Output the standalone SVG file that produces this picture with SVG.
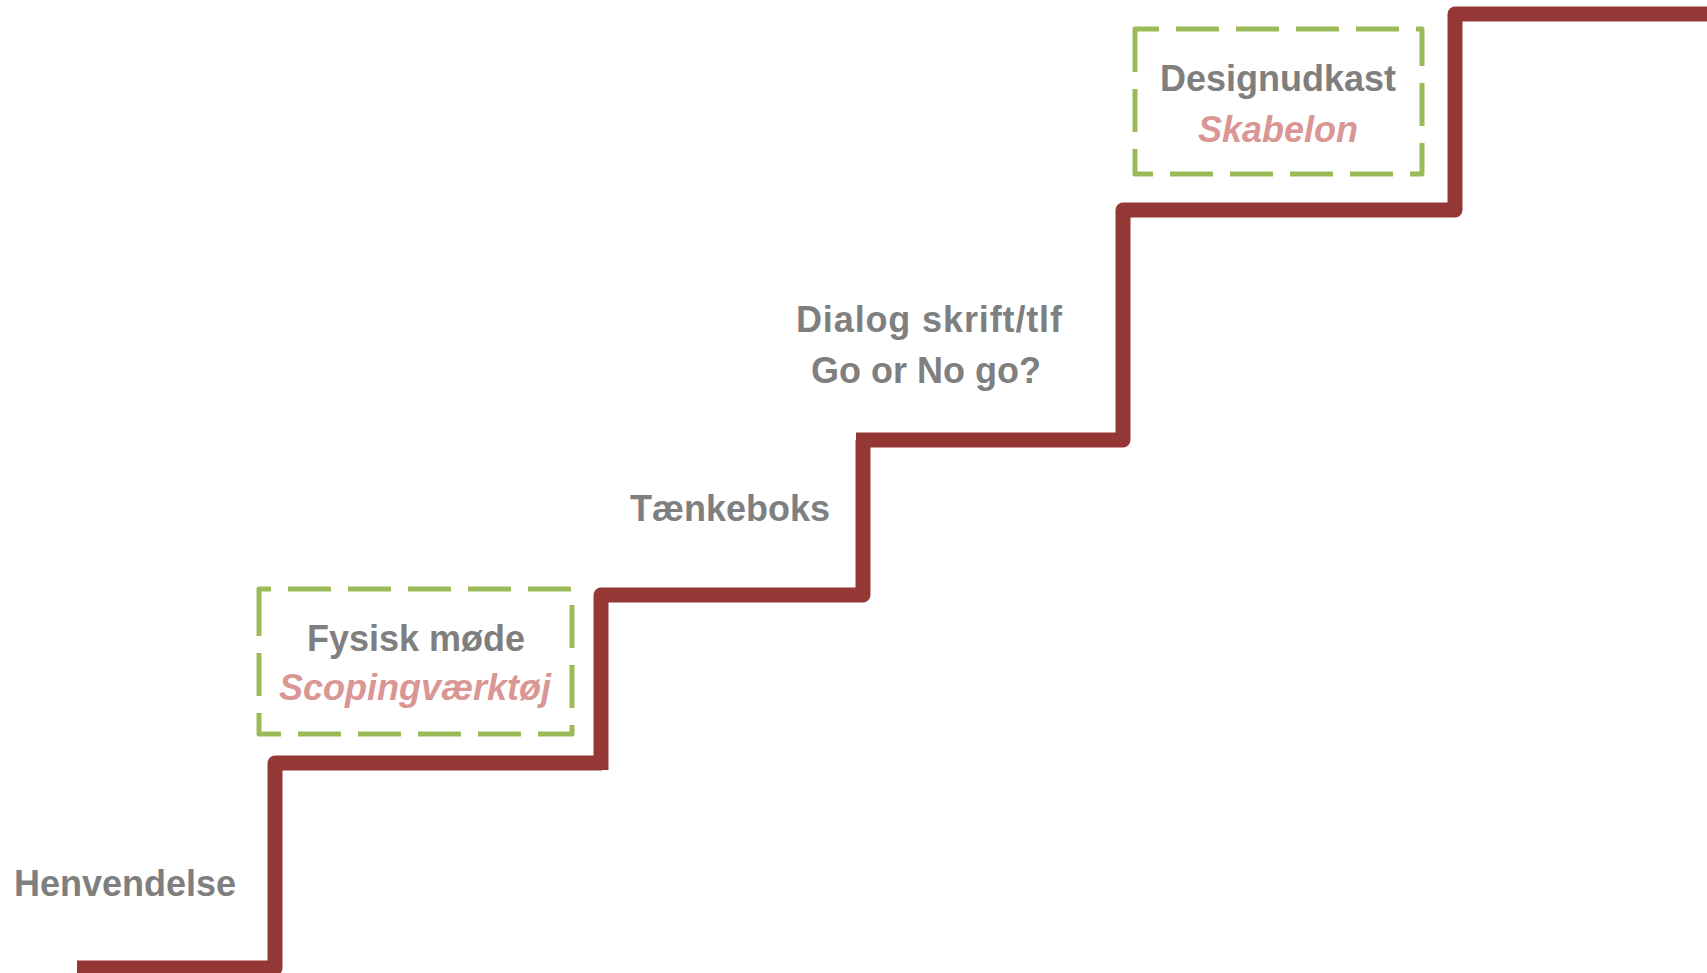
<svg xmlns="http://www.w3.org/2000/svg" width="1707" height="973" viewBox="0 0 1707 973">
<style>
.stair{fill:none;stroke:#953735;stroke-width:15;stroke-linejoin:round;stroke-linecap:butt}
.box{fill:none;stroke:#9BBB59;stroke-width:5;stroke-dasharray:43 17;stroke-linejoin:round}
.t{font-family:"Liberation Sans",Arial,sans-serif;font-weight:bold;font-size:36px;text-anchor:middle}
.g{fill:#7F7F7F}
.p{fill:#D99694;font-style:italic}
</style>
<rect width="1707" height="973" fill="#FFFFFF"/>
<g id="connectors">
<path class="stair" d="M77 968 H275 V763 H602"/>
<path class="stair" d="M601 770 V595 H863 V440"/>
<path class="stair" d="M856 440 H1123 V210 H1455 V14 H1707"/>
</g>
<g id="henvendelse">
<text class="t g" x="125" y="896">Henvendelse</text>
</g>
<g id="fysisk-moede">
<path class="box" d="M259 593 V734 H572 V589 H259 Z"/>
<text class="t g" x="416" y="651">Fysisk møde</text>
<text class="t p" x="415" y="700">Scopingværktøj</text>
</g>
<g id="taenkeboks">
<text class="t g" x="730" y="521">Tænkeboks</text>
</g>
<g id="dialog">
<text class="t g" x="929" y="332" textLength="266" lengthAdjust="spacing">Dialog skrift/tlf</text>
<text class="t g" x="926" y="383">Go or No go?</text>
</g>
<g id="designudkast">
<path class="box" d="M1135 29 V174 H1422 V29 H1135 Z"/>
<text class="t g" x="1278" y="91">Designudkast</text>
<text class="t p" x="1278" y="142">Skabelon</text>
</g>
</svg>
